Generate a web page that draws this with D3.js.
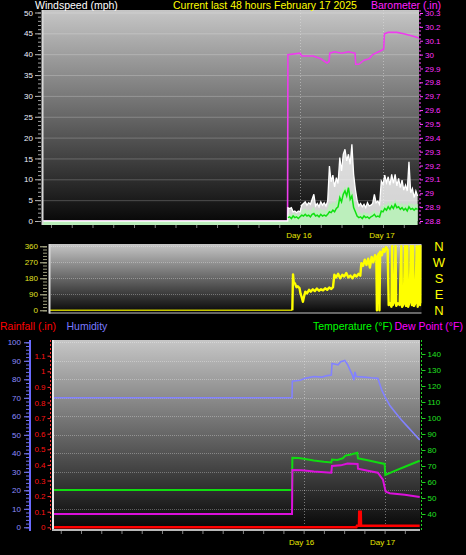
<!DOCTYPE html>
<html>
<head>
<meta charset="utf-8">
<script src="https://cdn.jsdelivr.net/npm/d3@7"></script>
<style>
body { margin: 0; background: #000; }
svg { display: block; font-family: "Liberation Sans", Arial, sans-serif; }
</style>
</head>
<body>
<svg width="466" height="555"></svg>
<script>
// hours relative to Feb 16 00:00
var timeDomain = [-74.6, 34.4];
var dayHours = [0, 24];
var dayNames = ['Day 16', 'Day 17'];

// wind readings, one every half hour from the first reading (mph)
var windStart = -3.5, windStep = 0.5;
var windGust = [3.2, 3.0, 3.2, 2.2, 2.4, 2.0, 2.4,
    2.2, 3.8, 4.2, 4.6, 3.8, 4.4, 4.0,
    5.2, 6.4, 3.6, 4.2, 3.4, 4.6, 3.8,
    4.4, 3.6, 4.8, 13.2, 9.4, 11.0, 8.2,
    10.4, 9.0, 15.2, 12.0, 16.0, 17.2, 14.4,
    16.0, 13.6, 18.4, 11.2, 7.6, 5.0, 3.6,
    4.2, 3.4, 4.0, 3.2, 4.4, 3.6, 3.8,
    4.2, 6.4, 4.4, 4.8, 4.0, 9.6, 8.8,
    11.0, 9.2, 10.6, 8.6, 11.2, 9.0, 11.2,
    8.4, 10.2, 8.0, 9.8, 7.4, 8.6, 7.2,
    14.2, 6.8, 7.8, 5.6, 7.2, 6.0];
var windSpeed = [1.6, 1.8, 1.4, 2.0, 1.6, 1.8, 1.4,
    1.8, 2.6, 2.8, 3.0, 2.4, 2.8, 2.2,
    3.0, 3.4, 2.4, 2.8, 2.2, 3.0, 2.6,
    2.8, 2.4, 3.0, 4.4, 4.0, 4.6, 4.2,
    5.0, 5.2, 7.2, 6.4, 7.6, 8.4, 7.4,
    8.8, 6.8, 7.4, 5.0, 3.6, 2.4, 1.8,
    2.0, 1.6, 2.2, 1.8, 2.0, 1.6, 2.0,
    2.2, 2.8, 2.0, 2.2, 2.0, 3.6, 3.4,
    4.2, 3.8, 4.6, 4.0, 4.8, 4.2, 5.2,
    4.4, 4.6, 4.0, 4.4, 3.8, 4.2, 3.6,
    4.6, 4.0, 4.2, 3.8, 4.2, 4.0];
var windAvg = [0.8, 1.0, 0.6, 1.2, 0.8, 1.0, 0.6,
    1.0, 1.4, 1.2, 1.6, 1.2, 1.4, 1.0,
    1.6, 1.8, 1.2, 1.4, 1.0, 1.6, 1.2,
    1.4, 1.2, 1.6, 2.2, 2.0, 2.6, 2.2,
    3.0, 3.4, 5.6, 4.6, 6.4, 7.2, 6.0,
    8.0, 5.2, 6.0, 3.2, 2.2, 1.2, 0.8,
    1.0, 0.6, 1.2, 0.8, 1.0, 0.6, 1.0,
    1.2, 1.6, 1.0, 1.2, 1.0, 2.4, 2.2,
    3.0, 2.6, 3.4, 2.8, 3.6, 3.0, 4.0,
    3.2, 3.4, 2.8, 3.2, 2.6, 3.0, 2.4,
    3.4, 2.8, 3.0, 2.6, 3.0, 2.8];

// [hour, inHg]
var baroReadings = [[-74.6, 28.8], [-3.6, 28.8], [-3.5, 30.00], [0, 30.01], [0.5, 29.99],
    [3.8, 29.99], [6, 29.97], [7.8, 29.94], [8.4, 29.95], [8.6, 30.01], [10, 30.02],
    [12, 30.01], [14, 30.02], [15.9, 30.01], [16.1, 29.93], [17, 29.93], [18.5, 29.96],
    [20, 29.97], [21, 30.00], [23.5, 30.03], [24.2, 30.04], [24.4, 30.15], [25.5, 30.16],
    [28, 30.16], [30, 30.15], [33, 30.13], [34.4, 30.12]];

// [hour, degrees]
var dirReadings = [[-74.6, 0], [-3.4, 0], [-3.2, 202], [-3.0, 160], [-2.6, 150], [-2.2, 130],
    [-1.8, 135], [-1.3, 125], [-1.0, 95], [-0.6, 70], [-0.3, 48], [0.0, 75], [0.4, 105],
    [0.9, 95], [1.5, 115], [2.0, 105], [2.6, 118], [3.2, 108], [3.8, 122], [4.4, 110],
    [5.0, 118], [5.6, 112], [6.2, 124], [6.8, 115], [7.4, 128], [8.0, 120], [8.5, 130],
    [8.9, 200], [9.4, 185], [10.0, 205], [10.6, 180], [11.2, 200], [11.8, 190], [12.4, 210],
    [13.0, 185], [13.6, 195], [14.2, 180], [14.8, 200], [15.4, 190], [16.0, 205], [16.5, 195],
    [16.8, 265], [17.3, 250], [17.8, 285], [18.3, 255], [18.8, 290], [19.3, 240], [19.8, 300],
    [20.3, 270], [20.8, 310], [21.2, 285], [21.35, 0], [21.5, 300], [21.9, 320], [22.1, 0],
    [22.3, 330], [22.8, 310], [23.2, 345], [23.6, 330], [24.0, 355], [24.5, 340], [24.8, 30],
    [25.2, 40], [25.6, 20], [25.8, 360], [26.0, 30], [26.4, 45], [26.8, 360], [27.0, 25],
    [27.5, 40], [28.0, 30], [28.5, 360], [28.7, 20], [29.2, 35], [29.6, 360], [29.9, 25],
    [30.2, 360], [30.5, 20], [30.9, 45], [31.3, 360], [31.6, 30], [31.9, 360], [32.2, 25],
    [32.6, 40], [33.0, 360], [33.3, 20], [33.7, 360], [34.0, 30], [34.3, 360], [34.4, 40]];

// [hour, %]
var humReadings = [[-74.6, 70], [-3.45, 70], [-3.35, 79], [-1, 79.5], [0.4, 80.5], [3, 81.5],
    [5.4, 81.2], [7, 82], [8.2, 82.3], [8.4, 88.5], [10.2, 87.8], [11, 89.5], [12.2, 90.2],
    [13, 88], [14.5, 82], [14.9, 79.5], [15.2, 84], [15.6, 81.5], [18, 81.2], [20, 80.8],
    [22, 80.5], [23.2, 74], [24.1, 70.6], [25.5, 66], [27, 62.5], [29, 58], [31, 54],
    [33, 50], [34.4, 47.2]];
// [hour, °F]
var tempReadings = [[-74.6, 55], [-3.45, 55], [-3.35, 75.2], [-1.5, 75.0], [0, 74.6], [3, 73.5],
    [6, 72.6], [8.2, 72.2], [8.4, 74.0], [10, 73.8], [11.6, 74.8], [12.4, 76.5], [14, 77.2],
    [15.9, 78.3], [16.1, 74.8], [19, 73.6], [22, 72.2], [24.0, 71.3], [24.2, 64.4], [27, 67],
    [30, 69.5], [34.4, 73.3]];
var dewReadings = [[-74.6, 40], [-3.45, 40], [-3.35, 67.5], [-0.5, 67.4], [3, 66.5], [8.2, 65.8],
    [8.4, 70], [11, 70.4], [13, 71.6], [16.0, 71.3], [16.1, 68.3], [19, 67], [22.0, 65.8],
    [23.5, 61.5], [24.3, 54], [25.5, 53], [30, 52], [34.4, 50.6]];
// [hour, in]
var rainReadings = [[-74.6, 0], [15.6, 0], [15.8, 0.01], [16.4, 0.01], [16.5, 0.1], [16.9, 0.1],
    [17.0, 0.01], [34.4, 0.01]];

var windTicks = [0, 5, 10, 15, 20, 25, 30, 35, 40, 45, 50];
var baroTicks = [28.8, 28.9, 29, 29.1, 29.2, 29.3, 29.4, 29.5, 29.6, 29.7, 29.8, 29.9, 30, 30.1, 30.2, 30.3];
var dirTicks = [0, 90, 180, 270, 360];
var dirLetters = ['N', 'E', 'S', 'W', 'N'];
var humTicks = [0, 10, 20, 30, 40, 50, 60, 70, 80, 90, 100];
var rainTicks = [0, 0.1, 0.2, 0.3, 0.4, 0.5, 0.6, 0.7, 0.8, 0.9, 1, 1.1];
var tempTicks = [40, 50, 60, 70, 80, 90, 100, 110, 120, 130, 140];

var font = '"Liberation Sans", Arial, sans-serif';
var svg = d3.select('svg');
var defs = svg.append('defs');

//vertical grey-to-black plot background
var grad = defs.append('linearGradient').attr('id', 'bg')
    .attr('x1', 0).attr('y1', 0).attr('x2', 0).attr('y2', 1);
grad.append('stop').attr('offset', 0).attr('stop-color', '#c6c6c6');
grad.append('stop').attr('offset', 1).attr('stop-color', '#050505');

function plotBox(id, box) {
    defs.append('clipPath').attr('id', id).append('rect')
        .attr('x', box.l).attr('y', box.t)
        .attr('width', box.r - box.l).attr('height', box.b - box.t);
    svg.append('rect')
        .attr('x', box.l).attr('y', box.t)
        .attr('width', box.r - box.l).attr('height', box.b - box.t)
        .attr('fill', 'url(#bg)');
    return svg.append('g').attr('clip-path', 'url(#' + id + ')');
}

function fmt(d) { return String(+d.toFixed(2)); }

function styleAxis(g, tickColor, textColor, size) {
    g.attr('font-family', font).attr('font-size', size);
    g.select('.domain').remove();
    g.selectAll('line').attr('stroke', tickColor);
    g.selectAll('text').attr('fill', textColor);
}

function addText(x, y, txt, color, size, anchor) {
    return svg.append('text')
        .attr('x', x).attr('y', y)
        .attr('fill', color)
        .attr('font-size', size)
        .attr('text-anchor', anchor || 'start')
        .text(txt);
}

/* ---------------- wind + barometer ---------------- */
var topBox = {l: 42, r: 419, t: 10, b: 225};
var xTop = d3.scaleLinear().domain(timeDomain).range([topBox.l, topBox.r]);
var yWind = d3.scaleLinear().domain([0, 50]).range([221, 12.5]);
var yBaro = d3.scaleLinear().domain([28.8, 30.3]).range([221, 13]);

var topG = plotBox('clipTop', topBox);

topG.selectAll('.hgrid').data(windTicks.slice(1)).enter()
    .append('line')
    .attr('x1', topBox.l).attr('x2', topBox.r)
    .attr('y1', function(d) { return yWind(d) + 0.5; })
    .attr('y2', function(d) { return yWind(d) + 0.5; })
    .attr('stroke', 'rgba(255,255,255,0.22)');

topG.selectAll('.vgrid').data(dayHours).enter()
    .append('line')
    .attr('x1', function(d) { return Math.round(xTop(d)) + 0.5; })
    .attr('x2', function(d) { return Math.round(xTop(d)) + 0.5; })
    .attr('y1', topBox.t).attr('y2', topBox.b)
    .attr('stroke', 'rgba(230,230,230,0.45)')
    .attr('stroke-dasharray', '1,2');

var windRows = [{t: timeDomain[0], g: 0, s: 0, a: 0}, {t: windStart - 0.05, g: 0, s: 0, a: 0}]
    .concat(windGust.map(function(g, i) {
        return {t: windStart + i * windStep, g: g, s: windSpeed[i], a: windAvg[i]};
    }));

topG.append('path')
    .attr('d', d3.line()
        .x(function(d) { return xTop(d[0]); })
        .y(function(d) { return yBaro(d[1]); })(baroReadings))
    .attr('fill', 'none').attr('stroke', '#ee3cee').attr('stroke-width', 1.6);

topG.append('path')
    .attr('d', d3.area()
        .x(function(d) { return xTop(d.t); })
        .y0(yWind(0))
        .y1(function(d) { return yWind(d.g); })(windRows))
    .attr('fill', 'rgba(255,255,255,0.82)');

topG.append('path')
    .attr('d', d3.area()
        .x(function(d) { return xTop(d.t); })
        .y0(topBox.b)
        .y1(function(d) { return yWind(d.s); })(windRows))
    .attr('fill', '#bcefbc');

topG.append('path')
    .attr('d', d3.line()
        .x(function(d) { return xTop(d.t); })
        .y(function(d) { return yWind(d.g); })(windRows))
    .attr('fill', 'none').attr('stroke', '#ffffff').attr('stroke-width', 1.3);

topG.append('path')
    .attr('d', d3.line()
        .x(function(d) { return xTop(d.t); })
        .y(function(d) { return yWind(d.a); })(windRows.slice(2)))
    .attr('fill', 'none').attr('stroke', '#10e010').attr('stroke-width', 1.5);

// plot borders
svg.append('line').attr('x1', topBox.l + 0.5).attr('x2', topBox.l + 0.5)
    .attr('y1', topBox.t).attr('y2', topBox.b)
    .attr('stroke', '#d8d8d8').attr('stroke-width', 2);

// left wind axis
var wAxis = svg.append('g').attr('transform', 'translate(41,0)')
    .call(d3.axisLeft(yWind).tickValues(windTicks).tickSize(6).tickPadding(2));
styleAxis(wAxis, '#b8b8b8', '#eef0ff', 8);
var wMinor = svg.append('g').attr('transform', 'translate(41,0)')
    .call(d3.axisLeft(yWind).tickValues(d3.range(0, 51, 1)).tickSize(3).tickFormat(''));
styleAxis(wMinor, '#a0a0a0', '#fff', 8);

// right barometer axis
svg.append('line').attr('x1', 420).attr('x2', 420).attr('y1', topBox.t).attr('y2', topBox.b)
    .attr('stroke', '#ff40ff').attr('stroke-dasharray', '2,2');
var bAxis = svg.append('g').attr('transform', 'translate(420,0)')
    .call(d3.axisRight(yBaro).tickValues(baroTicks).tickSize(3).tickPadding(2).tickFormat(fmt));
styleAxis(bAxis, '#ff40ff', '#ff30ff', 8);

// bottom hour ticks
var hourTicks = d3.range(-72, 35, 6);
var tAxis = svg.append('g').attr('transform', 'translate(0,' + topBox.b + ')')
    .call(d3.axisBottom(xTop).tickValues(hourTicks).tickSize(3).tickFormat(''));
styleAxis(tAxis, '#808080', '#fff', 8);

dayHours.forEach(function(h, i) {
    addText(xTop(h) - 1, 237.5, dayNames[i], '#e6e600', 8, 'middle');
});

addText(35, 8.5, 'Windspeed (mph)', '#ffffff', 10.5);
addText(173, 8.5, 'Current last 48 hours February 17 2025', '#ffff00', 10.5);
addText(371, 8.5, 'Barometer (.in)', '#ff20ff', 10.5);

/* ---------------- wind direction ---------------- */
var dirBox = {l: 49, r: 421.5, t: 244, b: 313.5};
var xDir = d3.scaleLinear().domain(timeDomain).range([dirBox.l, dirBox.r]);
var yDir = d3.scaleLinear().domain([0, 360]).range([310.3, 246.3]);

var dirG = plotBox('clipDir', dirBox);
dirG.selectAll('.hgrid').data(dirTicks.slice(1)).enter()
    .append('line')
    .attr('x1', dirBox.l).attr('x2', dirBox.r)
    .attr('y1', function(d) { return Math.round(yDir(d)) + 0.5; })
    .attr('y2', function(d) { return Math.round(yDir(d)) + 0.5; })
    .attr('stroke', 'rgba(255,255,255,0.3)')
    .attr('stroke-dasharray', '1,1');

var dirLine = d3.line()
    .x(function(d) { return xDir(d[0]); })
    .y(function(d) { return yDir(d[1]); });
// flat part before the first reading is drawn dimmer
dirG.append('path')
    .attr('d', dirLine(dirReadings.slice(0, 2)))
    .attr('fill', 'none').attr('stroke', '#c4c400').attr('stroke-width', 1.6);
dirG.append('path')
    .attr('d', dirLine(dirReadings.slice(1)))
    .attr('fill', 'none').attr('stroke', '#ffff00').attr('stroke-width', 2.4)
    .attr('stroke-linejoin', 'round');

svg.append('line').attr('x1', dirBox.l + 0.5).attr('x2', dirBox.l + 0.5)
    .attr('y1', dirBox.t).attr('y2', dirBox.b)
    .attr('stroke', '#d8d8d8').attr('stroke-width', 2);
svg.append('line').attr('x1', dirBox.l).attr('x2', dirBox.r)
    .attr('y1', dirBox.b - 0.5).attr('y2', dirBox.b - 0.5)
    .attr('stroke', '#c8c8c8');

var dAxis = svg.append('g').attr('transform', 'translate(47,0)')
    .call(d3.axisLeft(yDir).tickValues(dirTicks).tickSize(7).tickPadding(2));
styleAxis(dAxis, '#c8c8a0', '#e0e020', 8);
var dMinor = svg.append('g').attr('transform', 'translate(47,0)')
    .call(d3.axisLeft(yDir).tickValues(d3.range(0, 361, 18)).tickSize(4).tickFormat(''));
styleAxis(dMinor, '#a0a080', '#fff', 8);

dirTicks.forEach(function(d, i) {
    addText(439, yDir(d), dirLetters[i], '#ffff00', 13, 'middle')
        .attr('dy', '0.36em');
});

/* ---------------- rain, humidity, temperature ---------------- */
var botBox = {l: 52, r: 420, t: 340, b: 531};
var xBot = d3.scaleLinear().domain(timeDomain).range([botBox.l, 419.7]);
var yHum = d3.scaleLinear().domain([0, 100]).range([527.3, 342.3]);
var yRain = d3.scaleLinear().domain([0, 1.2]).range([527.3, 340.1]);
var yTemp = d3.scaleLinear().domain([30, 140]).range([530, 354]);

var botG = plotBox('clipBot', botBox);
botG.selectAll('.hgrid').data(humTicks.slice(1)).enter()
    .append('line')
    .attr('x1', botBox.l).attr('x2', botBox.r)
    .attr('y1', function(d) { return Math.round(yHum(d)) + 0.5; })
    .attr('y2', function(d) { return Math.round(yHum(d)) + 0.5; })
    .attr('stroke', 'rgba(255,255,255,0.3)')
    .attr('stroke-dasharray', '1,1');
botG.selectAll('.vgrid').data(dayHours).enter()
    .append('line')
    .attr('x1', function(d) { return Math.round(xBot(d)) + 0.5; })
    .attr('x2', function(d) { return Math.round(xBot(d)) + 0.5; })
    .attr('y1', botBox.t).attr('y2', botBox.b)
    .attr('stroke', 'rgba(230,230,230,0.45)')
    .attr('stroke-dasharray', '1,2');

function drawSeries(g, pts, yScale, color, w) {
    g.append('path')
        .attr('d', d3.line()
            .x(function(d) { return xBot(d[0]); })
            .y(function(d) { return yScale(d[1]); })(pts))
        .attr('fill', 'none').attr('stroke', color).attr('stroke-width', w);
}
drawSeries(botG, humReadings, yHum, '#8282ff', 1.6);
drawSeries(botG, tempReadings, yTemp, '#10dc10', 2);
drawSeries(botG, dewReadings, yTemp, '#dc10dc', 2);
drawSeries(botG, rainReadings, yRain, '#ff0000', 2.6);

svg.append('line').attr('x1', botBox.l + 1).attr('x2', botBox.l + 1)
    .attr('y1', botBox.t).attr('y2', botBox.b)
    .attr('stroke', '#e8e8e8').attr('stroke-width', 2);
svg.append('line').attr('x1', botBox.l).attr('x2', botBox.r)
    .attr('y1', botBox.b - 1).attr('y2', botBox.b - 1)
    .attr('stroke', '#b8b8b8').attr('stroke-width', 2);

// humidity axis
svg.append('line').attr('x1', 30).attr('x2', 30).attr('y1', botBox.t).attr('y2', botBox.b)
    .attr('stroke', '#6a6aff').attr('stroke-width', 2);
var hAxis = svg.append('g').attr('transform', 'translate(29,0)')
    .call(d3.axisLeft(yHum).tickValues(humTicks).tickSize(5).tickPadding(3));
styleAxis(hAxis, '#8080ff', '#8c8cff', 8);
var hMinor = svg.append('g').attr('transform', 'translate(29,0)')
    .call(d3.axisLeft(yHum).tickValues(d3.range(0, 101, 2)).tickSize(3).tickFormat(''));
styleAxis(hMinor, '#7070ee', '#fff', 8);

// rain axis
svg.append('line').attr('x1', 50.5).attr('x2', 50.5).attr('y1', botBox.t).attr('y2', botBox.b)
    .attr('stroke', '#ff3030').attr('stroke-dasharray', '2,2');
var rAxis = svg.append('g').attr('transform', 'translate(50.5,0)')
    .call(d3.axisLeft(yRain).tickValues(rainTicks).tickSize(3).tickPadding(2).tickFormat(fmt));
styleAxis(rAxis, '#ff3030', '#ff1010', 8);

// temperature axis
svg.append('line').attr('x1', 421.5).attr('x2', 421.5).attr('y1', botBox.t).attr('y2', botBox.b)
    .attr('stroke', '#20d020').attr('stroke-dasharray', '2,2');
var tpAxis = svg.append('g').attr('transform', 'translate(421.5,0)')
    .call(d3.axisRight(yTemp).tickValues(tempTicks).tickSize(4).tickPadding(2));
styleAxis(tpAxis, '#20d020', '#20e020', 8);

var bAxisX = svg.append('g').attr('transform', 'translate(0,' + botBox.b + ')')
    .call(d3.axisBottom(xBot).tickValues(hourTicks).tickSize(3).tickFormat(''));
styleAxis(bAxisX, '#808080', '#fff', 8);

dayHours.forEach(function(h, i) {
    addText(xBot(h) - 2, 544.5, dayNames[i], '#e6e600', 8, 'middle');
});

addText(0, 329.5, 'Rainfall (.in)', '#ff0000', 10.5);
addText(66.5, 329.5, 'Humidity', '#7a7aff', 10.5);
addText(313, 329.5, 'Temperature (°F)', '#00ff00', 10.5);
addText(394.5, 329.5, 'Dew Point (°F)', '#ff00ff', 10.5);
</script>
</body>
</html>
